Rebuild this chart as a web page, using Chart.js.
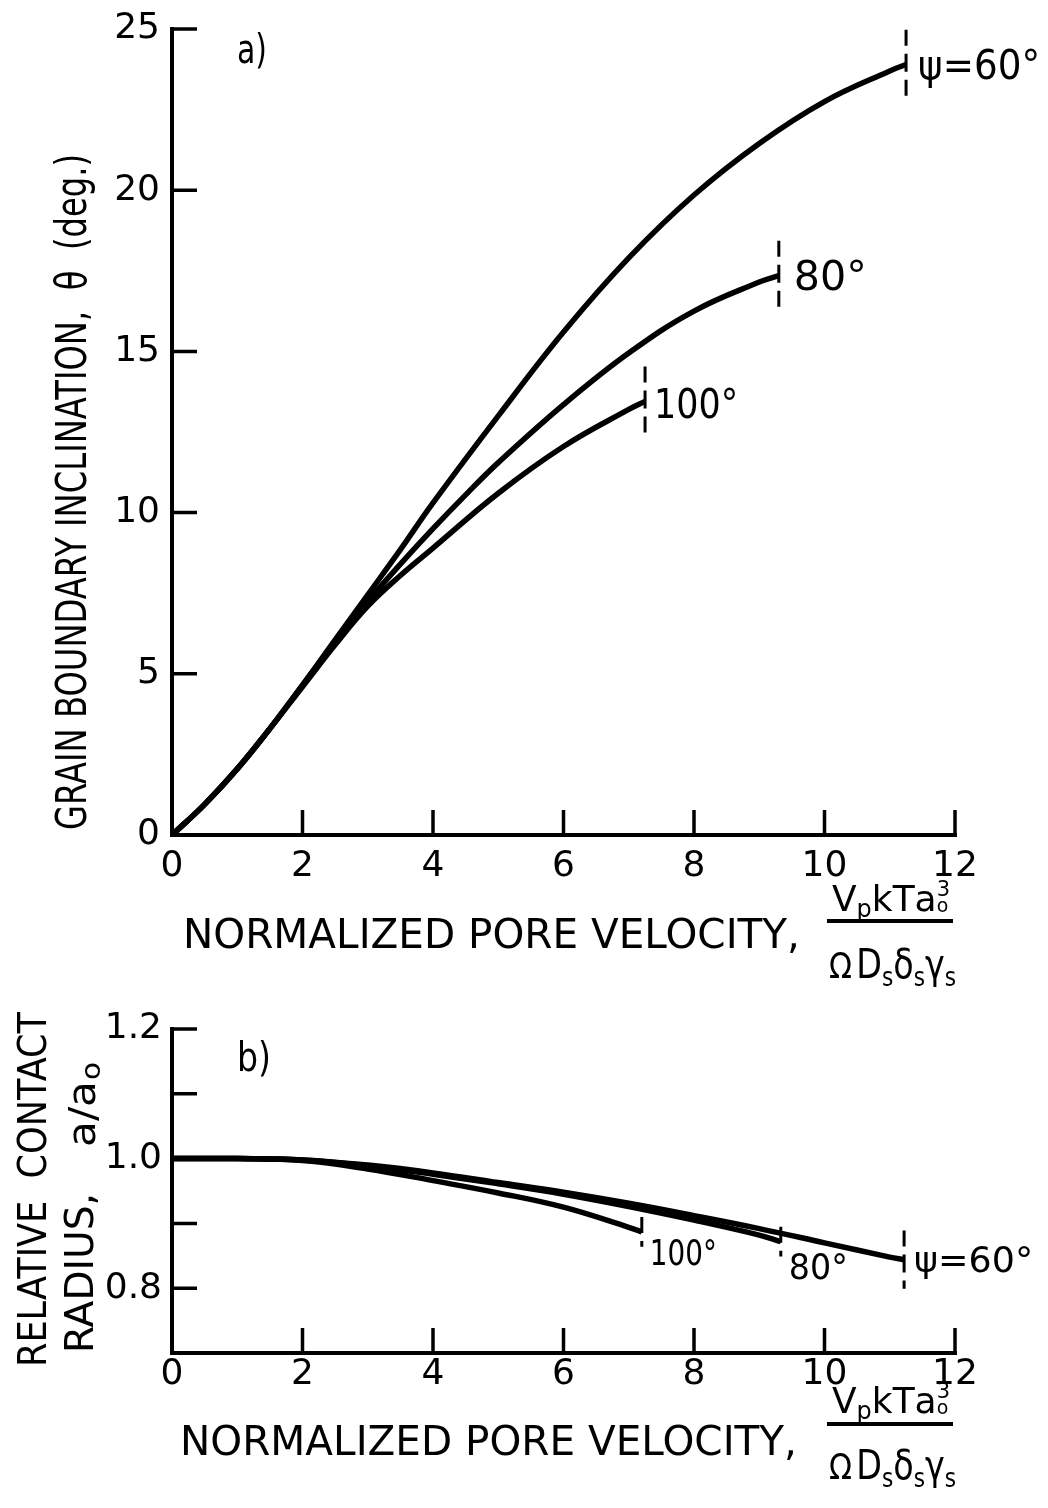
<!DOCTYPE html>
<html>
<head>
<meta charset="utf-8">
<script src="https://cdn.jsdelivr.net/npm/chart.js@4.4.0/dist/chart.umd.min.js"></script>
<style>
  html, body { margin: 0; padding: 0; background: #fff; }
  #wrap { position: relative; width: 1048px; height: 1508px; }
  .box { position: absolute; left: 0; width: 1048px; }
</style>
</head>
<body>
<div id="wrap">
  <div class="box" style="top:0;height:1000px"><canvas id="chartA"></canvas></div>
  <div class="box" style="top:1000px;height:508px"><canvas id="chartB"></canvas></div>
</div>
<script>
// ---- panel a) grain boundary inclination theta (deg) vs normalized pore velocity
const psiLabels = ['ψ=60°', '80°', '100°'];

const velA60 = [0, 0.5, 1, 1.5, 2, 2.5, 3, 3.5, 4, 5, 6, 7, 8, 9, 10, 11, 11.25];
const thetaA60 = [0, 0.95, 2.05, 3.3, 4.65, 6.05, 7.45, 8.85, 10.3, 13.0, 15.6, 17.9, 19.85, 21.45, 22.75, 23.7, 23.9];

const velA80 = [0, 0.5, 1, 1.5, 2, 2.5, 3, 3.5, 4, 4.5, 5, 6, 7, 8, 9, 9.3];
const thetaA80 = [0, 0.95, 2.05, 3.3, 4.65, 6.0, 7.25, 8.4, 9.5, 10.55, 11.55, 13.35, 14.95, 16.25, 17.15, 17.35];

const velA100 = [0, 0.5, 1, 1.5, 2, 2.5, 3, 3.5, 4, 5, 6, 7, 7.25];
const thetaA100 = [0, 0.95, 2.05, 3.3, 4.6, 5.9, 7.1, 8.05, 8.9, 10.6, 12.05, 13.2, 13.45];

// ---- panel b) relative contact radius a/a0 vs normalized pore velocity
const velB60 = [0, 1, 2, 3, 4, 5, 6, 7, 8, 9, 10, 11, 11.22];
const radB60 = [1.0, 1.0, 0.998, 0.99, 0.978, 0.963, 0.948, 0.931, 0.912, 0.892, 0.870, 0.848, 0.844];

const velB80 = [0, 1, 2, 3, 4, 5, 6, 7, 8, 9, 9.33];
const radB80 = [1.0, 1.0, 0.998, 0.989, 0.976, 0.961, 0.945, 0.926, 0.905, 0.882, 0.872];

const velB100 = [0, 1, 2, 3, 4, 5, 6, 7, 7.2];
const radB100 = [1.0, 1.0, 0.997, 0.984, 0.966, 0.947, 0.925, 0.894, 0.887];

const xTicks = [0, 2, 4, 6, 8, 10, 12];

const FONT = '"DejaVu Sans", "Liberation Sans", sans-serif';

function pts(xs, ys) { return xs.map((v, i) => ({ x: v, y: ys[i] })); }
function endBar(xs, ys, half) {
  const n = xs.length - 1;
  return [{ x: xs[n], y: ys[n] + half }, { x: xs[n], y: ys[n] - half }];
}
function curveSet(data) {
  return { data, showLine: true, borderColor: '#000', borderWidth: 5.5, pointRadius: 0,
           tension: 0.4, clip: false };
}
function barSet(data) {
  return { data, showLine: true, borderColor: '#000', borderWidth: 3, pointRadius: 0,
           borderDash: [16, 8, 18, 8], tension: 0, clip: false };
}

// text squeezed/stretched to a given width
function fitText(ctx, text, x, y, width, font) {
  ctx.save();
  ctx.font = font;
  const w = ctx.measureText(text).width;
  ctx.translate(x, y);
  ctx.scale(width / w, 1);
  ctx.textAlign = 'left';
  ctx.textBaseline = 'alphabetic';
  ctx.fillText(text, 0, 0);
  ctx.restore();
}
function upText(ctx, text, x, y, width, font) {
  ctx.save();
  ctx.translate(x, y);
  ctx.rotate(-Math.PI / 2);
  fitText(ctx, text, 0, 0, width, font);
  ctx.restore();
}
// small rich text: parts {t, f, dy, stack}
function richText(ctx, parts, x, y, width) {
  ctx.save();
  let total = 0, prev = 0;
  parts.forEach(p => {
    ctx.font = p.f + 'px ' + FONT;
    const w = ctx.measureText(p.t).width;
    if (p.stack) { prev = w; } else { total += Math.max(w, prev); prev = 0; }
    p._w = w;
  });
  ctx.translate(x, y);
  ctx.scale(width / total, 1);
  let cx = 0; prev = 0;
  parts.forEach(p => {
    ctx.font = p.f + 'px ' + FONT;
    ctx.fillText(p.t, cx, p.dy || 0);
    if (p.stack) { prev = p._w; } else { cx += Math.max(p._w, prev); prev = 0; }
  });
  ctx.restore();
}

function drawXTitle(ctx, base) {
  ctx.fillStyle = '#000';
  fitText(ctx, 'NORMALIZED PORE VELOCITY,', base.x, base.y, 617, '41px ' + FONT);
  richText(ctx, [
    { t: 'V', f: 36 }, { t: 'p', f: 24, dy: 6 }, { t: 'k', f: 36 }, { t: 'T', f: 36 },
    { t: 'a', f: 36 }, { t: '3', f: 21, dy: -15, stack: true }, { t: 'o', f: 19, dy: 1 }
  ], 832, base.num, 118);
  ctx.fillRect(827, base.bar - 2, 126, 4);
  richText(ctx, [
    { t: 'Ω', f: 36 }, { t: ' ', f: 16 }, { t: 'D', f: 40 }, { t: 's', f: 26, dy: 8 },
    { t: 'δ', f: 40 }, { t: 's', f: 26, dy: 8 }, { t: 'γ', f: 40 }, { t: 's', f: 26, dy: 8 }
  ], 829, base.den, 127);
}

// axis lines with inward ticks, drawn from the chart's own scales
const axisPlugin = {
  id: 'axisPlugin',
  afterDatasetsDraw(chart) {
    const { ctx, chartArea: a, scales: { x, y } } = chart;
    const tl = 25;
    ctx.save();
    ctx.strokeStyle = '#000';
    ctx.lineWidth = 4;
    ctx.beginPath();
    ctx.moveTo(a.left, a.top - 2);
    ctx.lineTo(a.left, a.bottom);
    ctx.lineTo(a.right + 2, a.bottom);
    ctx.stroke();
    ctx.lineWidth = 3.5;
    ctx.beginPath();
    y.ticks.forEach(t => {
      if (t.value <= y.min + 1e-9) return;
      const py = y.getPixelForValue(t.value);
      ctx.moveTo(a.left, py); ctx.lineTo(a.left + tl, py);
    });
    x.ticks.forEach(t => {
      if (t.value <= x.min + 1e-9) return;
      const px = x.getPixelForValue(t.value);
      ctx.moveTo(px, a.bottom); ctx.lineTo(px, a.bottom - tl);
    });
    ctx.stroke();
    ctx.restore();
  }
};

// curve end labels placed from the last point of each curve
const endLabelPlugin = {
  id: 'endLabels',
  afterDraw(chart, args, opts) {
    const { ctx, scales: { x, y } } = chart;
    ctx.save();
    ctx.fillStyle = '#000';
    opts.items.forEach((it, i) => {
      const xs = it.xs, ys = it.ys, n = xs.length - 1;
      const px = x.getPixelForValue(xs[n]);
      const py = y.getPixelForValue(ys[n]);
      fitText(ctx, psiLabels[i], px + it.gap, py + it.dy + opts.size * 0.36, it.w, opts.size + 'px ' + FONT);
    });
    ctx.restore();
    opts.extra(ctx);
  }
};

function baseOptions(yMin, yMax, yStep, yPad, xPad, padBottom, labelCb) {
  return {
    responsive: true,
    maintainAspectRatio: false,
    animation: false,
    devicePixelRatio: 1,
    layout: { padding: { left: 0, top: 29, right: 93, bottom: padBottom } },
    scales: {
      x: {
        type: 'linear', min: 0, max: 12,
        afterBuildTicks: s => { s.ticks = xTicks.map(v => ({ value: v })); },
        ticks: { color: '#000', font: { family: FONT, size: 36 }, padding: xPad },
        grid: { display: false }, border: { display: false },
        afterFit: s => { s.height = 60; }
      },
      y: {
        min: yMin, max: yMax,
        ticks: { stepSize: yStep, color: '#000', font: { family: FONT, size: 36 }, padding: yPad,
                 callback: labelCb },
        grid: { display: false }, border: { display: false },
        afterFit: s => { s.width = 172; }
      }
    }
  };
}

const optsA = baseOptions(0, 25, 5, 4, 2, 105, v => String(v));
optsA.plugins = {
  legend: { display: false }, tooltip: { enabled: false },
  endLabels: {
    size: 40,
    items: [
      { xs: velA60, ys: thetaA60, gap: 12, dy: 0, w: 122 },
      { xs: velA80, ys: thetaA80, gap: 15, dy: 0, w: 73 },
      { xs: velA100, ys: thetaA100, gap: 9, dy: 2, w: 84 }
    ],
    extra: ctx => {
      ctx.fillStyle = '#000';
      fitText(ctx, 'a)', 237, 63, 30, '40px ' + FONT);
      upText(ctx, 'GRAIN BOUNDARY INCLINATION,  θ  (deg.)', 86, 830, 676, '42px ' + FONT);
      drawXTitle(ctx, { x: 183, y: 948, num: 911, bar: 921, den: 978 });
    }
  }
};

new Chart(document.getElementById('chartA'), {
  type: 'scatter',
  data: {
    datasets: [
      curveSet(pts(velA60, thetaA60)),
      curveSet(pts(velA80, thetaA80)),
      curveSet(pts(velA100, thetaA100)),
      barSet(endBar(velA60, thetaA60, 1.08)),
      barSet(endBar(velA80, thetaA80, 1.08)),
      barSet(endBar(velA100, thetaA100, 1.08))
    ]
  },
  options: optsA,
  plugins: [axisPlugin, endLabelPlugin]
});

const optsB = baseOptions(0.7, 1.2, 0.1, 2, -8, 95, v => {
  const k = Math.round(v * 10);
  return (k % 2 === 0 && k > 7) ? (k / 10).toFixed(1) : '';
});
optsB.plugins = {
  legend: { display: false }, tooltip: { enabled: false },
  endLabels: {
    size: 35,
    items: [
      { xs: velB60, ys: radB60, gap: 10, dy: 0, w: 119 },
      { xs: velB80, ys: radB80, gap: 8, dy: 25, w: 59 },
      { xs: velB100, ys: radB100, gap: 8, dy: 21, w: 67 }
    ],
    extra: ctx => {
      ctx.fillStyle = '#000';
      fitText(ctx, 'b)', 237, 71, 34, '40px ' + FONT);
      upText(ctx, 'RELATIVE  CONTACT', 46, 367, 355, '39px ' + FONT);
      upText(ctx, 'RADIUS,', 93, 353, 160, '39px ' + FONT);
      upText(ctx, 'a/a', 95, 147, 66, '38px ' + FONT);
      upText(ctx, 'o', 100, 80, 18, '26px ' + FONT);
      drawXTitle(ctx, { x: 180, y: 455, num: 413, bar: 424, den: 479 });
    }
  }
};

new Chart(document.getElementById('chartB'), {
  type: 'scatter',
  data: {
    datasets: [
      curveSet(pts(velB60, radB60)),
      curveSet(pts(velB80, radB80)),
      curveSet(pts(velB100, radB100)),
      barSet(endBar(velB60, radB60, 0.045)),
      barSet(endBar(velB80, radB80, 0.023)),
      barSet(endBar(velB100, radB100, 0.023))
    ]
  },
  options: optsB,
  plugins: [axisPlugin, endLabelPlugin]
});
</script>
</body>
</html>
